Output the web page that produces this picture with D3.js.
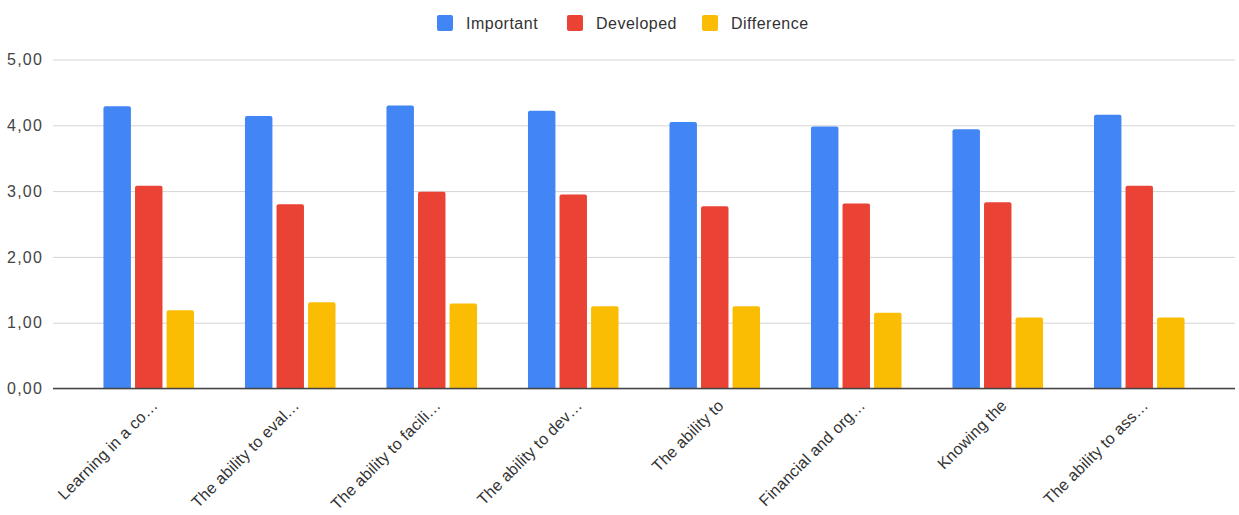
<!DOCTYPE html>
<html><head><meta charset="utf-8">
<script src="https://cdn.jsdelivr.net/npm/d3@7"></script>
<style>body{margin:0;background:#fff;} svg{display:block;font-family:"Liberation Sans",Arial,sans-serif;}</style>
</head><body>
<svg id="c" width="1239" height="515"></svg>
<script>
const categories = ["Learning in a co…","The ability to eval…","The ability to facili…","The ability to dev…","The ability to","Financial and org…","Knowing the","The ability to ass…"];
const seriesNames = ["Important","Developed","Difference"];
const important = [4.29,4.14,4.30,4.22,4.05,3.98,3.94,4.16];
const developed = [3.08,2.80,2.99,2.95,2.77,2.81,2.83,3.08];
const difference = [1.19,1.31,1.29,1.25,1.25,1.15,1.08,1.08];
const colors = ["#4285F4","#EA4335","#FBBC04"];
const yTicks = [0,1,2,3,4,5];

(function(){
const svg = d3.select("#c");
const series = [important, developed, difference];
const gridL = 53, gridR = 1235, plotTop = 59.5, plotBottom = 388.5;
const x = d3.scaleBand().domain(categories).range([78, 1210]).paddingInner(0.36).paddingOuter(0.18);
const x1 = d3.scaleBand().domain(seriesNames).range([0, x.bandwidth()]).paddingInner(0.13);
const y = d3.scaleLinear().domain([0,5]).range([plotBottom, plotTop]);
const fmt = v => d3.format(".2f")(v).replace(".", ",");

const yAxis = d3.axisLeft(y).tickValues(yTicks).tickFormat(fmt).tickSize(-(gridR-gridL)).tickPadding(10);
const ga = svg.append("g").attr("transform", `translate(${gridL},0)`).call(yAxis);
ga.select(".domain").remove();
ga.selectAll(".tick line").attr("stroke", "#d4d4d4").attr("stroke-width", 1);
ga.selectAll(".tick text").attr("fill", "#444").attr("font-size", 16).attr("letter-spacing", 1.2)
  .attr("font-family","Liberation Sans, Arial, sans-serif");

const groups = svg.append("g").selectAll("g").data(categories).join("g")
  .attr("transform", d => `translate(${x(d)},0)`);
groups.each(function(cat, i){
  const g = d3.select(this);
  seriesNames.forEach((s, j) => {
    const v = series[j][i];
    const bx = x1(s), bw = x1.bandwidth(), by = y(v), bh = y(0) - y(v), r = 2;
    g.append("path")
      .attr("fill", colors[j])
      .attr("d", `M${bx},${by+bh} V${by+r} Q${bx},${by} ${bx+r},${by} H${bx+bw-r} Q${bx+bw},${by} ${bx+bw},${by+r} V${by+bh} Z`);
  });
});

svg.append("line").attr("x1", gridL).attr("x2", gridR).attr("y1", y(0)).attr("y2", y(0))
  .attr("stroke", "#444").attr("stroke-width", 1.3);

const xAxis = d3.axisBottom(x).tickSize(0).tickPadding(0);
const gx = svg.append("g").attr("transform", `translate(0,${plotBottom})`).call(xAxis);
gx.select(".domain").remove();
gx.selectAll(".tick text")
  .attr("text-anchor", "end")
  .attr("font-size", 16)
  .attr("letter-spacing", 0.2)
  .attr("fill", "#333")
  .attr("font-family","Liberation Sans, Arial, sans-serif")
  .attr("dy", 0)
  .attr("transform", "translate(10,18) rotate(-45)");

const legendX = [437, 567, 702];
seriesNames.forEach((s, j) => {
  const lx = legendX[j];
  svg.append("rect").attr("x", lx).attr("y", 15).attr("width", 16).attr("height", 16).attr("rx", 2).attr("fill", colors[j]);
  svg.append("text").attr("x", lx + 29).attr("y", 28.5).attr("font-size", 16).attr("letter-spacing", 0.5).attr("fill", "#333").text(s);
});
})();
</script>
</body></html>
